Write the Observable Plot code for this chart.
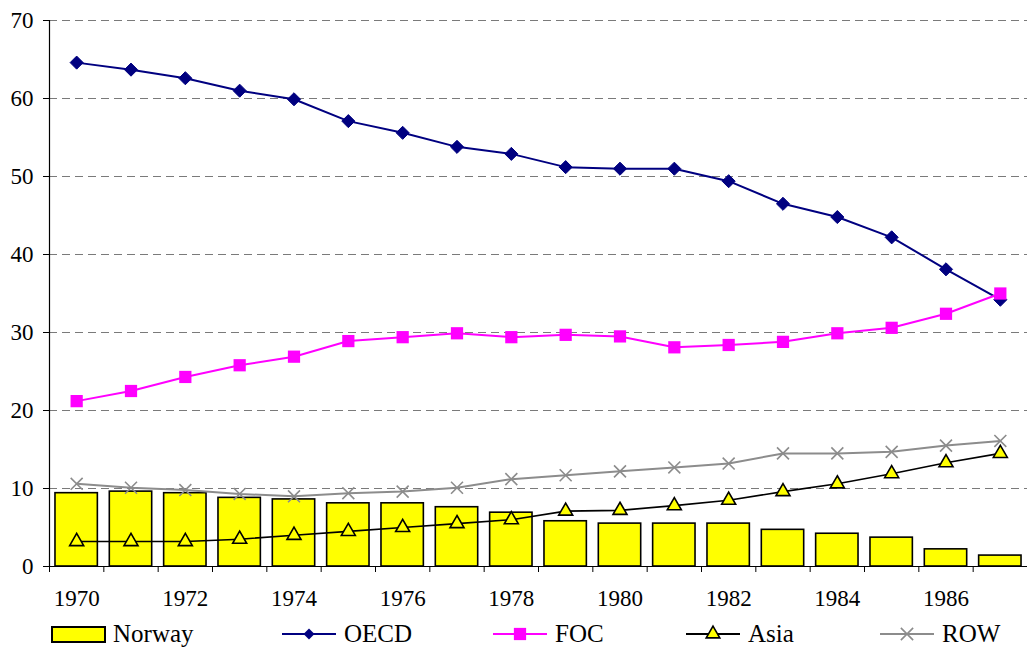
<!DOCTYPE html>
<html>
<head>
<meta charset="utf-8">
<script src="https://cdn.jsdelivr.net/npm/d3@7"></script>
<script src="https://cdn.jsdelivr.net/npm/@observablehq/plot@0.6"></script>
<style>
  body { margin: 0; background: #fff; }
  #wrap { position: relative; width: 1027px; height: 648px; font-family: "Liberation Serif", "Times New Roman", serif; }
  #chart svg text { font-family: "Liberation Serif", "Times New Roman", serif; }
  #legend { position: absolute; left: 0; top: 619px; width: 1027px; height: 29px; }
  .item { position: absolute; top: 0; display: flex; align-items: center; font-size: 25px; line-height: 29px; color: #000; }
  .item svg { margin-right: 6px; }
</style>
</head>
<body>
<div id="wrap">
  <div id="chart"></div>
  <div id="legend"></div>
</div>
<script>
const years  = [1970,1971,1972,1973,1974,1975,1976,1977,1978,1979,1980,1981,1982,1983,1984,1985,1986,1987];
const norway = [9.4,9.6,9.4,8.8,8.6,8.1,8.1,7.6,6.9,5.8,5.5,5.5,5.5,4.7,4.2,3.7,2.2,1.4];
const oecd   = [64.6,63.7,62.6,61.0,59.9,57.1,55.6,53.8,52.9,51.2,51.0,51.0,49.4,46.5,44.8,42.2,38.1,34.2];
const foc    = [21.2,22.5,24.3,25.8,26.9,28.9,29.4,29.9,29.4,29.7,29.5,28.1,28.4,28.8,29.9,30.6,32.4,35.0];
const asia   = [3.2,3.2,3.2,3.5,4.0,4.5,5.0,5.5,6.0,7.1,7.2,7.8,8.5,9.6,10.6,11.9,13.3,14.5];
const row    = [10.6,10.1,9.8,9.3,9.0,9.4,9.6,10.1,11.2,11.7,12.2,12.7,13.2,14.5,14.5,14.7,15.5,16.1];
const yTicks = [0,10,20,30,40,50,60,70];
const xLabels = [1970,1972,1974,1976,1978,1980,1982,1984,1986];

const data = years.map((y,i)=>({year:y, norway:norway[i], oecd:oecd[i], foc:foc[i], asia:asia[i], row:row[i]}));
const bounds = d3.range(years[0]-0.5, years[years.length-1]+1, 1);

const font = '"Liberation Serif", "Times New Roman", serif';

const chart = Plot.plot({
  width: 1027,
  height: 618,
  marginLeft: 49,
  marginRight: 0,
  marginTop: 20,
  marginBottom: 52,
  style: { fontFamily: font, fontSize: "23px", color: "#000", background: "#fff" },
  x: { type: "linear", domain: [years[0]-0.5, years[years.length-1]+0.5] },
  y: { domain: [0,70] },
  marks: [
    Plot.gridY(yTicks.filter(t=>t>0), { stroke: "#7a7a7a", strokeOpacity: 1, strokeWidth: 1.2, strokeDasharray: "8,5" }),
    Plot.axisY({ ticks: yTicks, tickSize: 6, tickPadding: 10, label: null, fontSize: 23, tickFormat: d=>d }),
    Plot.axisX({ ticks: bounds, tickSize: 6, tickFormat: () => "", label: null, stroke: "#000" }),
    Plot.axisX({ ticks: xLabels, tickSize: 0, tickPadding: 23, tickFormat: d=>String(d), label: null, fontSize: 23 }),
    Plot.rect(data, { x1: d=>d.year-0.39, x2: d=>d.year+0.39, y1: 0, y2: "norway", fill: "#FFFF00", stroke: "#000", strokeWidth: 1.6 }),
    Plot.ruleY([0], { stroke: "#000", strokeWidth: 1.2 }),
    Plot.ruleX([years[0]-0.5], { stroke: "#000", strokeWidth: 1.2 }),
    Plot.line(data, { x: "year", y: "oecd", stroke: "#000080", strokeWidth: 2 }),
    Plot.dot(data, { x: "year", y: "oecd", symbol: "diamond2", r: 5.9, fill: "#000080", stroke: "#000080", strokeWidth: 1 }),
    Plot.line(data, { x: "year", y: "row", stroke: "#8c8c8c", strokeWidth: 2 }),
    Plot.dot(data, { x: "year", y: "row", symbol: "times", r: 5.5, stroke: "#8c8c8c", strokeWidth: 1.6 }),
    Plot.line(data, { x: "year", y: "asia", stroke: "#000", strokeWidth: 1.6 }),
    Plot.dot(data, { x: "year", y: "asia", symbol: "triangle", r: 5.2, fill: "#FFFF00", stroke: "#000", strokeWidth: 1.6 }),
    Plot.line(data, { x: "year", y: "foc", stroke: "#FF00FF", strokeWidth: 2 }),
    Plot.dot(data, { x: "year", y: "foc", symbol: "square", r: 6.9, fill: "#FF00FF", stroke: "none" })
  ]
});
document.getElementById("chart").appendChild(chart);

// Legend
const legendItems = [
  { name: "Norway", left: 51, type: "bar" },
  { name: "OECD", left: 282, type: "line", color: "#000080", symbol: d3.symbol(d3.symbolSquare, 60), rot: 45, fill: "#000080" },
  { name: "FOC", left: 493, type: "line", color: "#FF00FF", symbol: d3.symbol(d3.symbolSquare, 150), rot: 0, fill: "#FF00FF" },
  { name: "Asia", left: 686, type: "line", color: "#000", symbol: d3.symbol(d3.symbolTriangle, 80), rot: 0, fill: "#FFFF00", stroke: "#000" },
  { name: "ROW", left: 880, type: "line", color: "#8c8c8c", symbol: d3.symbol(d3.symbolTimes, 100), rot: 0, fill: "none", stroke: "#8c8c8c" }
];
const leg = document.getElementById("legend");
for (const it of legendItems) {
  const div = document.createElement("div");
  div.className = "item";
  div.style.left = it.left + "px";
  const ns = "http://www.w3.org/2000/svg";
  const s = document.createElementNS(ns, "svg");
  s.setAttribute("width", 56); s.setAttribute("height", 24);
  if (it.type === "bar") {
    const r = document.createElementNS(ns, "rect");
    r.setAttribute("x", 1); r.setAttribute("y", 5); r.setAttribute("width", 53); r.setAttribute("height", 15);
    r.setAttribute("fill", "#FFFF00"); r.setAttribute("stroke", "#000"); r.setAttribute("stroke-width", 2);
    s.appendChild(r);
  } else {
    const l = document.createElementNS(ns, "line");
    l.setAttribute("x1", 0); l.setAttribute("x2", 54); l.setAttribute("y1", 12); l.setAttribute("y2", 12);
    l.setAttribute("stroke", it.color); l.setAttribute("stroke-width", 2);
    s.appendChild(l);
    const p = document.createElementNS(ns, "path");
    p.setAttribute("d", it.symbol());
    p.setAttribute("transform", `translate(27,12) rotate(${it.rot})`);
    p.setAttribute("fill", it.fill);
    if (it.stroke) { p.setAttribute("stroke", it.stroke); p.setAttribute("stroke-width", 1.6); }
    s.appendChild(p);
  }
  div.appendChild(s);
  const t = document.createElement("span");
  t.textContent = it.name;
  div.appendChild(t);
  leg.appendChild(div);
}
</script>
</body>
</html>
